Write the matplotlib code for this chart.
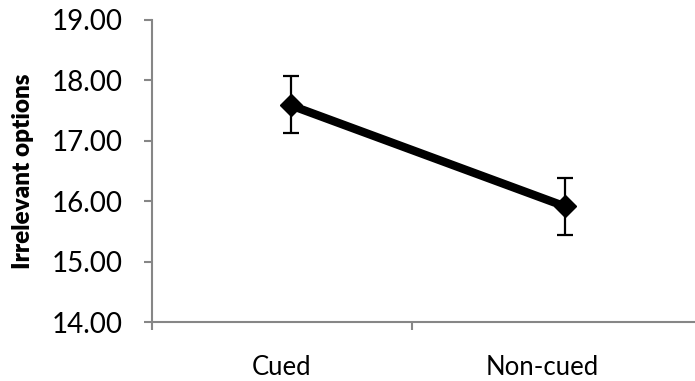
import matplotlib
matplotlib.use("Agg")
import matplotlib.pyplot as plt
from matplotlib.ticker import FixedLocator

categories = ["Cued", "Non-cued"]
means = [17.58, 15.91]
err_low = [17.13, 15.43]
err_high = [18.07, 16.38]
y_ticks = [14, 15, 16, 17, 18, 19]

plt.rcParams['font.family'] = ['Lato', 'DejaVu Sans']

fig = plt.figure(figsize=(6.95, 3.81), dpi=100)
ax = fig.add_axes([152/695, 1 - 322/381, 1 - 152/695, (322 - 19.5)/381])

x = list(range(len(categories)))
yerr = [[m - lo for m, lo in zip(means, err_low)], [hi - m for m, hi in zip(means, err_high)]]
ax.errorbar(x, means, yerr=yerr, fmt='none', ecolor='black', elinewidth=1.6, capsize=5.5, capthick=1.6, zorder=2)
ax.plot(x, means, color='black', linewidth=6, marker='D', markersize=11.5, markerfacecolor='black',
        markeredgecolor='black', zorder=3)

ax.set_ylim(14, 19)
ax.set_xlim(-0.507, 1.474)
ax.set_yticks(y_ticks)
ax.set_yticklabels([f"{v:.2f}" for v in y_ticks], fontsize=20)

# category labels (centered in their category slots) and boundary ticks
ax.set_xticks([-0.033, 0.916])
ax.set_xticklabels(categories, fontsize=18.5)
ax.xaxis.set_minor_locator(FixedLocator([-0.507, 0.44]))
ax.tick_params(axis='x', which='major', length=0, pad=24)
ax.tick_params(axis='x', which='minor', length=6, width=1.5, color='#868686', direction='out')
ax.tick_params(axis='y', which='major', length=6, width=1.5, color='#868686', direction='out', pad=15)

for side in ['top', 'right']:
    ax.spines[side].set_visible(False)
for side in ['left', 'bottom']:
    ax.spines[side].set_color('#868686')
    ax.spines[side].set_linewidth(1.5)

ax.set_ylabel("Irrelevant options", fontsize=17.5, fontweight='heavy')
ax.yaxis.set_label_coords((34 - 152)/(695 - 152), (322 - 171)/(322 - 19.5))

fig.savefig("out.png", dpi=100)
